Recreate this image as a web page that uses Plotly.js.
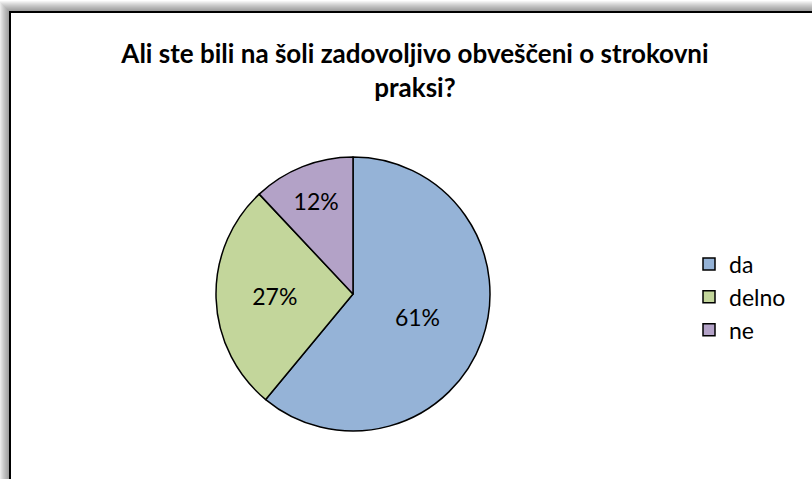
<!DOCTYPE html>
<html>
<head>
<meta charset="utf-8">
<script src="https://cdn.plot.ly/plotly-3.0.1.min.js"></script>
<style>html,body{margin:0;padding:0;background:#fff;}#chart{width:812px;height:479px;}</style>
</head>
<body>
<div id="chart"></div>
<script>
const categories = ["da", "delno", "ne"];
const shares = [61, 27, 12];
const sliceColors = ["#95B3D7", "#C3D69B", "#B3A2C7"];
const chartTitle = "Ali ste bili na šoli zadovoljivo obveščeni o strokovni<br>praksi?";

const W = 812, H = 479;
const px = x => x / W;
const py = y => 1 - y / H;
const FONT = "Lato, 'Open Sans', sans-serif";

const shapes = [];
// soft shadow above/left of the chart frame
for (let i = 11; i >= 1; i--) {
  shapes.push({
    type: "rect", xref: "paper", yref: "paper", layer: "below",
    x0: px(10 - i), y0: py(520), x1: px(830), y1: py(12 - i),
    fillcolor: "rgba(0,0,0,0.045)", line: {width: 0}
  });
}
shapes.push({
  type: "rect", xref: "paper", yref: "paper", layer: "below",
  x0: px(10), y0: py(520), x1: px(830), y1: py(12),
  fillcolor: "#ffffff", line: {color: "#000000", width: 2}
});

const data = [{
  type: "pie",
  labels: categories,
  values: shares,
  sort: false,
  direction: "clockwise",
  rotation: 0,
  marker: {colors: sliceColors, line: {color: "#000000", width: 1.5}},
  textinfo: "percent",
  texttemplate: "%{percent:.0%}",
  textposition: "inside",
  insidetextorientation: "horizontal",
  textfont: {family: FONT, size: 23, color: "#000000"},
  hoverinfo: "label+percent",
  domain: {x: [px(216), px(490)], y: [py(431), py(157)]}
}];

const layout = {
  width: W, height: H,
  margin: {l: 0, r: 0, t: 0, b: 0},
  paper_bgcolor: "#ffffff",
  font: {family: FONT, color: "#000000"},
  title: {
    text: chartTitle,
    font: {family: FONT, size: 26, color: "#000000", weight: "bold"},
    x: px(415), xanchor: "center", y: py(63), yanchor: "middle"
  },
  showlegend: true,
  legend: {
    x: px(689), xanchor: "left", y: py(297), yanchor: "middle",
    font: {family: FONT, size: 23, color: "#000000"},
    bgcolor: "rgba(0,0,0,0)"
  },
  shapes: shapes
};

Plotly.newPlot("chart", data, layout, {displayModeBar: false, staticPlot: true});
</script>
</body>
</html>
